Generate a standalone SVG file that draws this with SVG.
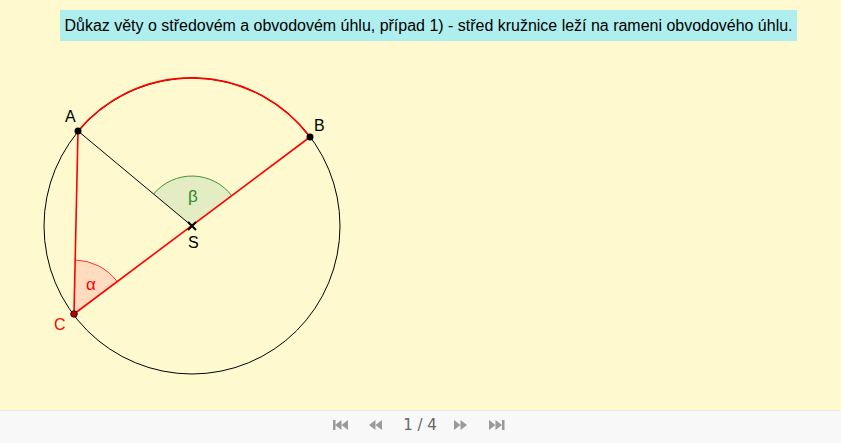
<svg xmlns="http://www.w3.org/2000/svg" width="841" height="443" viewBox="0 0 841 443">
<defs>
<style>
.lbl{font-family:"Liberation Sans",Arial,sans-serif;font-size:16px;fill:#000}
.red{stroke:#f00;stroke-width:1.6;fill:none}
.blk{stroke:#000;stroke-width:1;fill:none}
.nav{fill:#9a9a9a}
</style>
</defs>
<rect x="0" y="0" width="841" height="410" fill="#fff9cf"/>
<rect x="0" y="410" width="841" height="33" fill="#f8f8f8"/>
<line x1="0" y1="410.5" x2="841" y2="410.5" stroke="#ebebeb"/>
<g id="title">
<rect x="60" y="10" width="737" height="31" fill="#afeeee"/>
<text x="428.5" y="31" text-anchor="middle" class="lbl" textLength="728" lengthAdjust="spacingAndGlyphs">Důkaz věty o středovém a obvodovém úhlu, případ 1) - střed kružnice leží na rameni obvodového úhlu.</text>
</g>
<g id="angle-alpha">
<path d="M74 314 L75.2 260 A54 54 0 0 1 117.2 281.6 Z" fill="#ffdcc0" stroke="none"/>
<path d="M75.2 260 A54 54 0 0 1 117.2 281.6" fill="none" stroke="#f00" stroke-width="0.8"/>
<text x="86" y="290" class="lbl" style="fill:#f00;font-size:17px">α</text>
</g>
<g id="angle-beta">
<path d="M192 226 L153.6 194 A50 50 0 0 1 231.9 195.9 Z" fill="#e3ecc3" stroke="none"/>
<path d="M153.6 194 A50 50 0 0 1 231.9 195.9" fill="none" stroke="#2a8a2a" stroke-width="0.9"/>
<text x="188" y="202" class="lbl" style="fill:#2a8a2a;font-size:17px">β</text>
</g>
<g id="connectors">
<circle cx="192" cy="226" r="148" class="blk"/>
<path d="M78 131 A148 148 0 0 1 310 137" class="red"/>
<line x1="78" y1="131" x2="192" y2="226" class="blk"/>
<line x1="78" y1="131" x2="74" y2="314" class="red"/>
<line x1="74" y1="314" x2="310" y2="137" class="red"/>
</g>
<g id="point-A">
<circle cx="78" cy="131" r="3.5" fill="#000"/>
<text x="65" y="122" class="lbl">A</text>
</g>
<g id="point-B">
<circle cx="310" cy="137" r="3.5" fill="#000"/>
<text x="314" y="131" class="lbl">B</text>
</g>
<g id="point-C">
<circle cx="74" cy="314" r="3.3" fill="#c00000" stroke="#000" stroke-width="0.8"/>
<text x="54" y="330" class="lbl" style="fill:#f00">C</text>
</g>
<g id="point-S">
<path d="M188 222 L196 230 M196 222 L188 230" stroke="#000" stroke-width="2" fill="none"/>
<text x="188" y="248" class="lbl">S</text>
</g>
<g id="nav">
<rect x="333" y="420" width="2.5" height="10" class="nav"/>
<polygon points="335,425 341.5,420 341.5,430" class="nav"/>
<polygon points="341.5,425 348,420 348,430" class="nav"/>
<polygon points="369,425 375.5,420 375.5,430" class="nav"/>
<polygon points="375.5,425 382,420 382,430" class="nav"/>
<text x="420" y="430" text-anchor="middle" style="font-family:'DejaVu Sans',sans-serif;font-size:15px;fill:#666">1 / 4</text>
<polygon points="454,420 460.5,425 454,430" class="nav"/>
<polygon points="460.5,420 467,425 460.5,430" class="nav"/>
<polygon points="489,420 495.5,425 489,430" class="nav"/>
<polygon points="495.5,420 502,425 495.5,430" class="nav"/>
<rect x="502" y="420" width="2.5" height="10" class="nav"/>
</g>
</svg>
